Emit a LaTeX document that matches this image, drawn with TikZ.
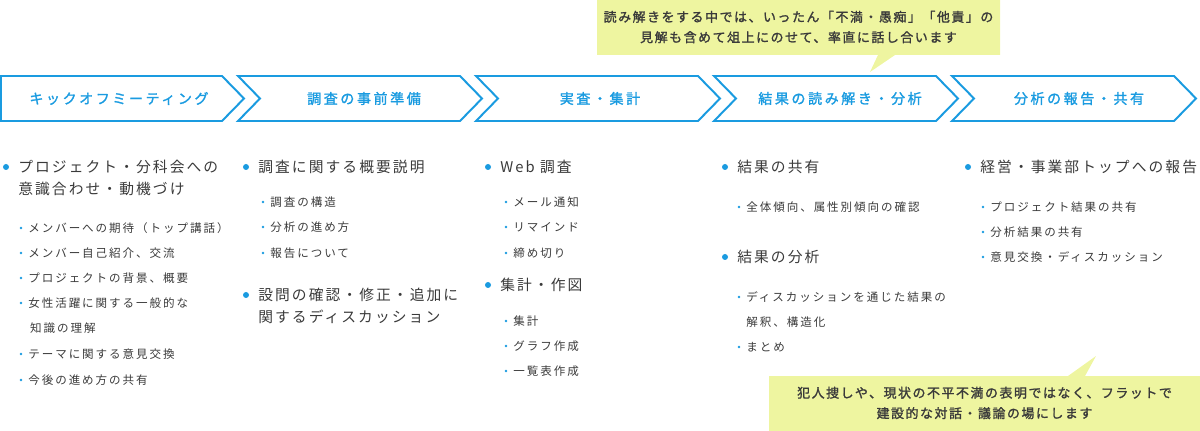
\documentclass[tikz,border=0pt]{standalone}
\usepackage{fontspec}
\setmainfont{Noto Sans CJK JP}
\newfontfamily\jpbold{Noto Sans CJK JP}[FakeBold=1.5,LetterSpace=18]
\newfontfamily\jpnote{Noto Sans CJK JP}[FakeBold=1.5,LetterSpace=12]
\newfontfamily\jpmain{Noto Sans CJK JP}[LetterSpace=14]
\newfontfamily\jpsub{Noto Sans CJK JP}[LetterSpace=17]
\definecolor{flowblue}{HTML}{1A9BE0}
\definecolor{bodygray}{HTML}{3A3A3A}
\definecolor{notefill}{HTML}{EEF5A0}
\tikzset{
	steplabel/.style={text=flowblue,font=\jpbold\fontsize{10}{12}\selectfont},
	mainitem/.style={anchor=west,text=bodygray,font=\jpmain\fontsize{10.5}{13}\selectfont,inner sep=0},
	subitem/.style={anchor=west,text=bodygray,font=\jpsub\fontsize{8.2}{10}\selectfont,inner sep=0},
	notetext/.style={align=center,text=bodygray,font=\jpnote\fontsize{9.2}{14.5}\selectfont},
}
\newcommand{\tmain}[4]{% name, x, y, text
	\fill[flowblue] (#2-12,#3) circle (3);
	\node[mainitem] (#1) at (#2,#3) {#4};}
\newcommand{\tsub}[4]{%
	\fill[flowblue] (#2-7,#3) circle (1.4);
	\node[subitem] (#1) at (#2,#3) {#4};}
\begin{document}
\begin{tikzpicture}[x=0.025cm,y=-0.025cm]
	\useasboundingbox (0,0) rectangle (1200,431);
	% process chevrons
	\draw[flowblue,line width=1.4pt] (1,76) -- (222,76) -- (244,98.5) -- (222,121) -- (1,121) -- cycle;
	\foreach \s in {238,476,714,952}
		\draw[flowblue,line width=1.4pt] (\s,76) -- (\s+222,76) -- (\s+244,98.5) -- (\s+222,121) -- (\s,121) -- (\s+22,98.5) -- cycle;
	\node[steplabel] (s1) at (119,98.5) {キックオフミーティング};
	\node[steplabel] (s2) at (364,98.5) {調査の事前準備};
	\node[steplabel] (s3) at (600,98.5) {実査・集計};
	\node[steplabel] (s4) at (840,98.5) {結果の読み解き・分析};
	\node[steplabel] (s5) at (1079,98.5) {分析の報告・共有};
	% column 1
	\tmain{k1}{18}{167}{プロジェクト・分科会への}
	\node[mainitem] (k1b) at (18,189) {意識合わせ・動機づけ};
	\tsub{k2}{28}{228}{メンバーへの期待（トップ講話）}
	\tsub{k3}{28}{253}{メンバー自己紹介、交流}
	\tsub{k4}{28}{278}{プロジェクトの背景、概要}
	\tsub{k5}{28}{303}{女性活躍に関する一般的な}
	\node[subitem] (k5b) at (28,328) {\,知識の理解};
	\tsub{k6}{28}{354}{テーマに関する意見交換}
	\tsub{k7}{28}{380}{今後の進め方の共有}
	% column 2
	\tmain{c1}{258}{167}{調査に関する概要説明}
	\tsub{c2}{270}{202}{調査の構造}
	\tsub{c3}{270}{227}{分析の進め方}
	\tsub{c4}{270}{253}{報告について}
	\tmain{c5}{258}{295}{設問の確認・修正・追加に}
	\node[mainitem] (c5b) at (258,317) {関するディスカッション};
	% column 3
	\tmain{j1}{500}{167}{Web 調査}
	\tsub{j2}{513}{202}{メール通知}
	\tsub{j3}{513}{227}{リマインド}
	\tsub{j4}{513}{253}{締め切り}
	\tmain{j5}{500}{285}{集計・作図}
	\tsub{j6}{513}{321}{集計}
	\tsub{j7}{513}{346}{グラフ作成}
	\tsub{j8}{513}{371}{一覧表作成}
	% column 4
	\tmain{r1}{737}{167}{結果の共有}
	\tsub{r2}{746}{207}{全体傾向、属性別傾向の確認}
	\tmain{r3}{737}{257}{結果の分析}
	\tsub{r4}{746}{297}{ディスカッションを通じた結果の}
	\node[subitem] (r4b) at (746,322) {解釈、構造化};
	\tsub{r5}{746}{347}{まとめ}
	% column 5
	\tmain{h1}{980}{167}{経営・事業部トップへの報告}
	\tsub{h2}{990}{207}{プロジェクト結果の共有}
	\tsub{h3}{990}{232}{分析結果の共有}
	\tsub{h4}{990}{257}{意見交換・ディスカッション}
	% callouts
	\fill[notefill] (597,0) -- (1000,0) -- (1000,55) -- (895,55) -- (870,72) -- (878,55) -- (597,55) -- cycle;
	\node[notetext] (n1) at (798.5,27) {読み解きをする中では、いったん「不満・愚痴」「他責」の\\見解も含めて俎上にのせて、率直に話し合います};
	\fill[notefill] (769,376) -- (1068,376) -- (1096,356) -- (1085,376) -- (1200,376) -- (1200,431) -- (769,431) -- cycle;
	\node[notetext] (n2) at (984.5,403) {犯人捜しや、現状の不平不満の表明ではなく、フラットで\\建設的な対話・議論の場にします};
\end{tikzpicture}
\end{document}
